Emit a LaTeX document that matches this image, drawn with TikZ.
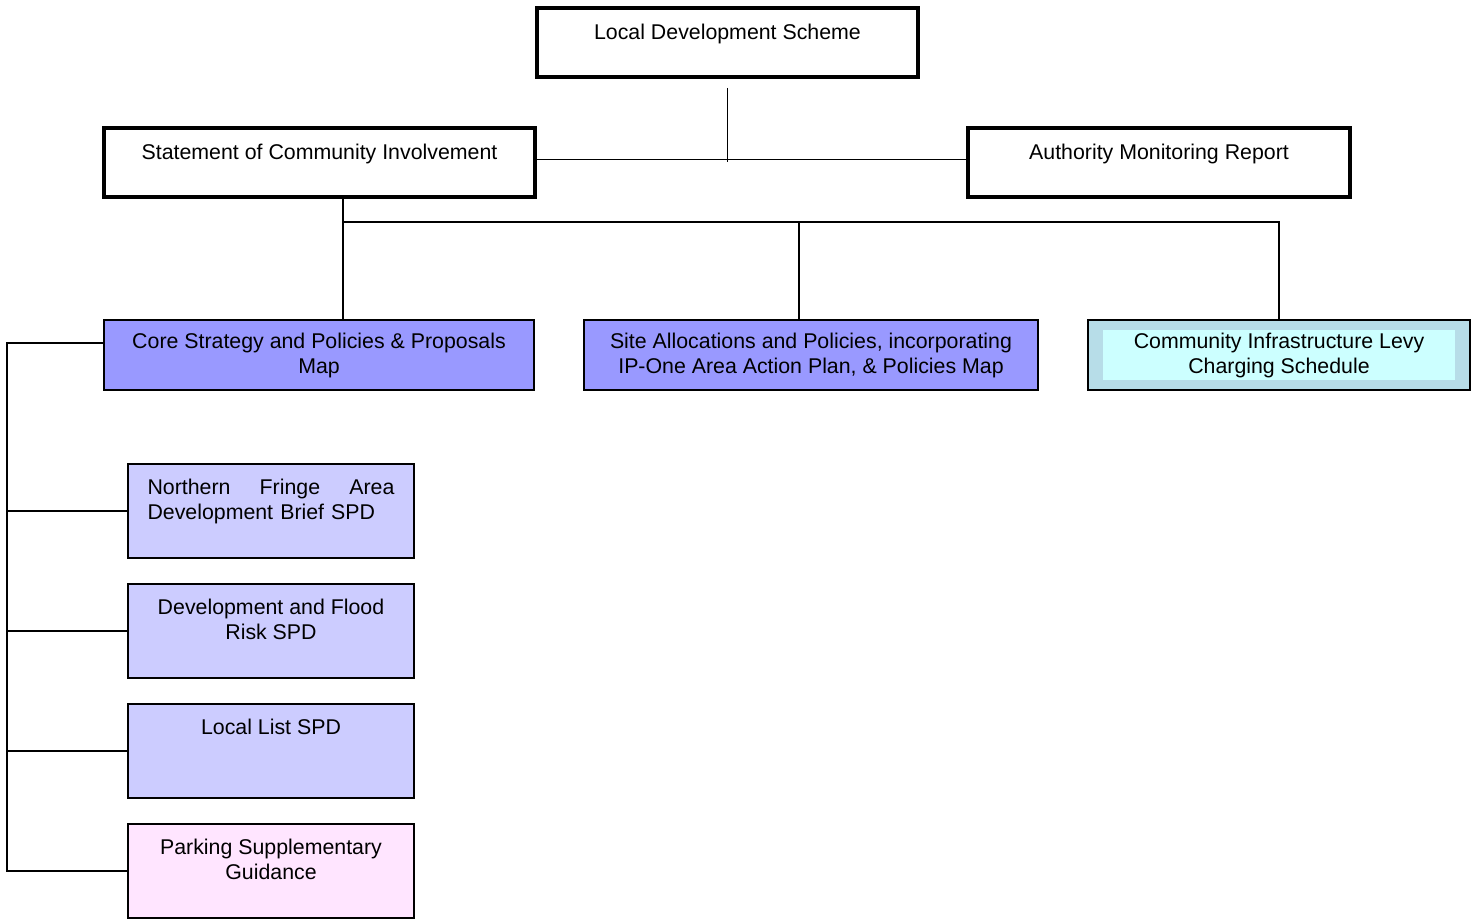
\documentclass[tikz,border=0pt]{standalone}
\usepackage{fontspec}
\setmainfont{Liberation Sans}
\usetikzlibrary{positioning}
\newlength{\unitpx}\setlength{\unitpx}{0.75pt}
\definecolor{coreblue}{HTML}{9999FF}
\definecolor{spdblue}{HTML}{CCCCFF}
\definecolor{parkpink}{HTML}{FFE5FF}
\definecolor{cilgrey}{HTML}{B7DDE8}
\definecolor{cilcyan}{HTML}{CCFFFF}
\tikzset{
    docbox/.style={draw, line width=1.5pt, anchor=north west, inner sep=0pt},
    topbox/.style={docbox, line width=3pt, minimum height=69\unitpx},
    planbox/.style={docbox, minimum height=70\unitpx},
    spdbox/.style={docbox, fill=spdblue, minimum width=286\unitpx, minimum height=94\unitpx},
    txt/.style={anchor=north, align=center, inner sep=0pt, font=\fontsize{16}{18.75}\selectfont},
    link/.style={line width=1.4pt}
}
\begin{document}
\begin{tikzpicture}[x=0.75pt, y=-0.75pt]
\useasboundingbox (0,0) rectangle (1478,919);
% top row
\node[topbox, minimum width=381\unitpx, label={[txt, yshift=-18\unitpx]north:{Local Development Scheme}}] (lds) at (535,6) {};
\node[topbox, minimum width=431\unitpx, label={[txt, yshift=-18\unitpx]north:{Statement of Community Involvement}}] (sci) at (102,126) {};
\node[topbox, minimum width=382\unitpx, label={[txt, yshift=-18\unitpx]north:{Authority Monitoring Report}}] (amr) at (966,126) {};
% plans
\node[planbox, fill=coreblue, minimum width=430\unitpx, label={[txt, yshift=-14\unitpx]north:{Core Strategy and Policies \& Proposals\\Map}}] (core) at (103,319) {};
\node[planbox, fill=coreblue, minimum width=454\unitpx, label={[txt, yshift=-14\unitpx]north:{Site Allocations and Policies, incorporating\\IP-One Area Action Plan, \& Policies Map}}] (site) at (583,319) {};
\node[planbox, fill=cilgrey, minimum width=382\unitpx] (cil) at (1087,319) {};
\node[txt, anchor=center, fill=cilcyan, minimum width=352\unitpx, minimum height=50\unitpx] (cilt) at (cil.center) {Community Infrastructure Levy\\Charging Schedule};
% SPDs
\node[spdbox, label={[txt, align=left, text width=247\unitpx, yshift=-15.5\unitpx]north:{Northern\hfill Fringe\hfill Area\\Development Brief SPD}}] (nfa) at (127,463) {};
\node[spdbox, label={[txt, yshift=-15.5\unitpx]north:{Development and Flood\\Risk SPD}}] (dfr) at (127,583) {};
\node[spdbox, label={[txt, yshift=-15.5\unitpx]north:{Local List SPD}}] (llist) at (127,703) {};
\node[spdbox, fill=parkpink, label={[txt, yshift=-15.5\unitpx]north:{Parking Supplementary\\Guidance}}] (park) at (127,823) {};

\draw[link]([yshift=-9\unitpx]lds.south)--(lds.south |- sci.east);
\draw[link]([yshift=3\unitpx]sci.east)--([yshift=3\unitpx]amr.west);
\draw[link]([xshift=23.5\unitpx]sci.south)--++(0,23)coordinate(bus)-|(cil.north);
\draw[link](bus)--(bus |- core.north);
\draw[link]([xshift=-12\unitpx]site.north)--([xshift=-12\unitpx]site.north |- bus);
\coordinate (spine) at (7,343);
\draw[link]([yshift=12\unitpx]core.west)-|(spine |- park.west)--(park.west);
\foreach \spd in {nfa,dfr,llist}
{
    \draw[link](spine |- \spd.west)--(\spd.west);
}
\end{tikzpicture}
\end{document}
